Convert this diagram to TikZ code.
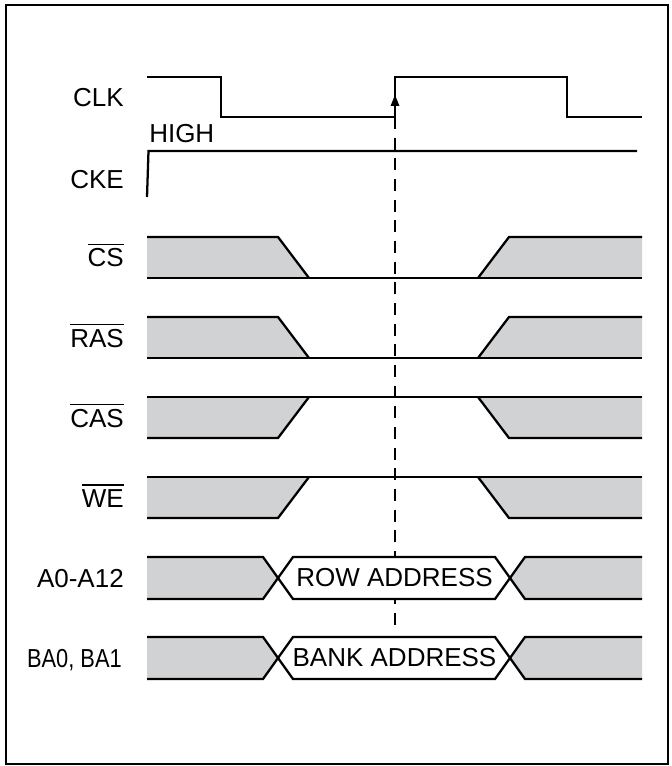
\documentclass[tikz,border=0pt]{standalone}
\usepackage{fontspec}
\setmainfont{Liberation Sans}
\definecolor{sgray}{RGB}{209,210,212}
\newcommand{\ovl}[1]{\leavevmode\vbox{\hrule height 1.1pt\kern 2.6pt\hbox{#1}}}
\tikzset{
  wave/.style={line width=1.7pt, line join=miter},
  thinwave/.style={line width=1.1pt},
  gfill/.style={fill=sgray, draw=none},
  lbl/.style={anchor=base east, inner sep=0pt, font=\fontsize{19.5}{23}\selectfont},
  hexlbl/.style={anchor=center, inner sep=0pt, font=\fontsize{19.5}{23}\selectfont},
  frame/.style={line width=1.7pt},
  marker/.style={line width=1.1pt, dash pattern=on 9pt off 6.5pt}
}
\begin{document}
\begin{tikzpicture}[x=0.75pt,y=-0.75pt]
\useasboundingbox (0,0) rectangle (671,766);
\draw[frame] (6,5) rectangle (668,764);

% labels
\node[lbl] (clk) at (124,107) {CLK};
\node[lbl] (cke) at (124,189) {CKE};
\node[lbl] (cs)  at (124,267) {\ovl{CS}};
\node[lbl] (ras) at (124,347) {\ovl{RAS}};
\node[lbl] (cas) at (124,427) {\ovl{CAS}};
\node[lbl] (we)  at (124,507) {\ovl{WE}};
\node[lbl] (addr) at (124,587) {A0-A12};
\node[lbl] (bank) at (122,667) {\scalebox{0.84}[1]{BA0, BA1}};
\node[anchor=base west, inner sep=0pt, font=\fontsize{19.5}{23}\selectfont] (high) at (149,143) {HIGH};

% reference marker
\coordinate (dtop) at (395,117);
\coordinate (dbot) at (395,625);
\draw[marker] (dtop) -- (dbot);

% CLK
\draw[wave] (147,77) -- (221,77) -- (221,117) -- (395,117) -- (395,77) -- (567,77) -- (567,117) -- (642,117);
\fill (390.5,106) -- (395,95) -- (399.5,106) -- cycle;

% CKE
\draw[wave] (147,197) -- (148.5,151) -- (637,151);

% CS and RAS (go low)
\foreach \T in {237,317}{
  \pgfmathsetmacro{\B}{\T+41}
  \fill[gfill] (147,\T) -- (278,\T) -- (309,\B) -- (147,\B) -- cycle;
  \fill[gfill] (478,\B) -- (509,\T) -- (642,\T) -- (642,\B) -- cycle;
  \draw[wave] (147,\T) -- (278,\T) -- (309,\B);
  \draw[wave] (478,\B) -- (509,\T) -- (642,\T);
  \draw[wave] (147,\B) -- (309,\B);
  \draw[thinwave] (309,\B) -- (478,\B);
  \draw[wave] (478,\B) -- (642,\B);
}

% CAS and WE (go high)
\foreach \T in {397,477}{
  \pgfmathsetmacro{\B}{\T+41}
  \fill[gfill] (147,\T) -- (309,\T) -- (278,\B) -- (147,\B) -- cycle;
  \fill[gfill] (478,\T) -- (642,\T) -- (642,\B) -- (509,\B) -- cycle;
  \draw[wave] (147,\B) -- (278,\B) -- (309,\T);
  \draw[wave] (478,\T) -- (509,\B) -- (642,\B);
  \draw[wave] (147,\T) -- (309,\T);
  \draw[thinwave] (309,\T) -- (478,\T);
  \draw[wave] (478,\T) -- (642,\T);
}

% address buses
\foreach \T/\name/\txt in {557/rowaddr/ROW ADDRESS,637/bankaddr/BANK ADDRESS}{
  \pgfmathsetmacro{\B}{\T+42}
  \pgfmathsetmacro{\M}{\T+21}
  \fill[gfill] (147,\T) -- (263,\T) -- (278,\M) -- (263,\B) -- (147,\B) -- cycle;
  \fill[gfill] (510,\M) -- (525,\T) -- (642,\T) -- (642,\B) -- (525,\B) -- cycle;
  \fill[white] (278,\M) -- (293,\T) -- (495,\T) -- (510,\M) -- (495,\B) -- (293,\B) -- cycle;
  \draw[wave] (147,\T) -- (263,\T) -- (293,\B) -- (495,\B) -- (525,\T) -- (642,\T);
  \draw[wave] (147,\B) -- (263,\B) -- (293,\T) -- (495,\T) -- (525,\B) -- (642,\B);
  \node[hexlbl] (\name) at (394.5,\M) {\txt};
}
\end{tikzpicture}
\end{document}
